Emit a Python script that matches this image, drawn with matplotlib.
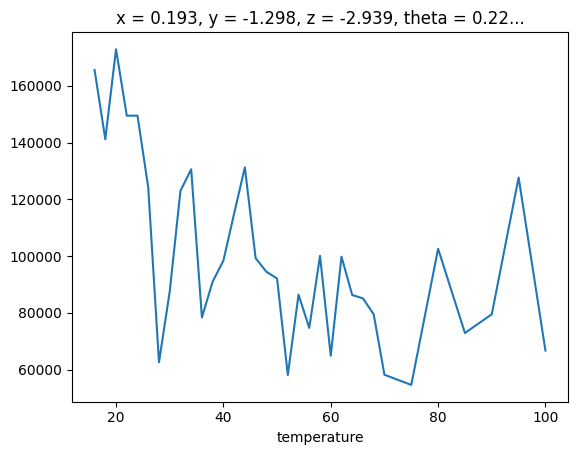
import matplotlib
matplotlib.use('Agg')
import matplotlib.pyplot as plt

# temperature values and the measured quantity at each
temperature = [16, 18, 20, 22, 24, 26, 28, 30, 32, 34, 36, 38, 40, 42, 44, 46, 48, 50,
               52, 54, 56, 58, 60, 62, 64, 66, 68, 70, 75, 80, 85, 90, 95, 100]
values = [165600, 141200, 172900, 149500, 149500, 124200, 62600, 87500, 123000, 130600,
          78400, 91000, 98400, 115000, 131300, 99300, 94500, 92100,
          58100, 86400, 74700, 100100, 64900, 99800, 86300, 85100, 79500, 58200,
          54600, 102600, 72900, 79500, 127700, 66700]

fig = plt.figure(figsize=(5.78, 4.55), dpi=100)
ax = fig.add_axes([0.1246, 0.1171, 0.8581, 0.8115])

ax.plot(temperature, values)

ax.set_xlabel('temperature')
ax.set_title('x = 0.193, y = -1.298, z = -2.939, theta = 0.22...')

fig.savefig('out.png', dpi=100)
